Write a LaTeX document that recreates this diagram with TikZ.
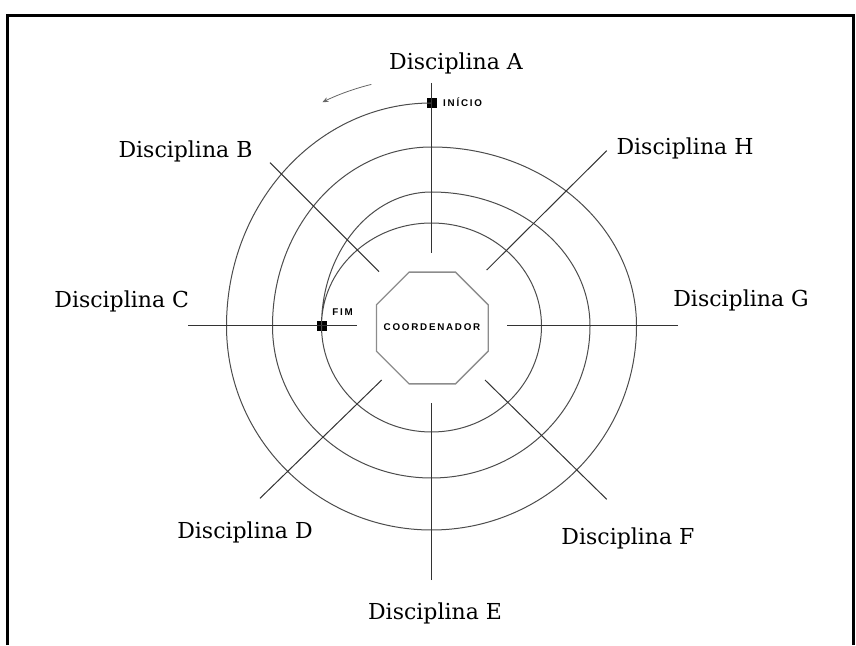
\documentclass[tikz,border=0pt]{standalone}
\usepackage{fontspec}
\newfontfamily\dserif{DejaVu Serif}
\newfontfamily\lblfont[LetterSpace=18]{Liberation Sans}
\usetikzlibrary{shapes.geometric,arrows.meta}
\begin{document}
\begin{tikzpicture}[x=1pt,y=1pt,
  spiral/.style={draw=black!70, line width=1pt},
  radial/.style={draw=black!80, line width=1pt},
  disc/.style={font=\dserif\fontsize{22}{26}\selectfont, anchor=base, inner sep=0pt},
  tag/.style={font=\lblfont\bfseries\fontsize{9.8}{11}\selectfont, inner sep=0pt},
  marker/.style={fill=black, minimum size=10pt, inner sep=0pt, draw=none},
  octa/.style={regular polygon, regular polygon sides=8, minimum size=121pt, inner sep=0pt, draw=black!45, line width=1.3pt}
]
\useasboundingbox (0,0) rectangle (856,645);
% frame
\draw[line width=3pt] (7,0) -- (7,629) -- (853,629) -- (853,0);

% coordinator
\node[octa] (coord) at (432.3,317) {};
\node[tag] (coordT) at (432,318) {COORDENADOR};

% markers
\node[marker] (inicio) at (431.5,542) {};
\node[marker] (fim) at (321.5,319) {};
\node[tag, anchor=west] (inicioT) at (443,542.5) {INÍCIO};
\node[tag] (fimT) at (342.5,332.5) {FIM};

% spiral
\draw[spiral] (inicio.center)
  arc[start angle=90,  end angle=180, x radius=205pt,   y radius=223pt]
  arc[start angle=180, end angle=270, x radius=205pt,   y radius=204pt]
  arc[start angle=270, end angle=360, x radius=205pt,   y radius=204pt]
  arc[start angle=0,   end angle=90,  x radius=205pt,   y radius=179pt]
  arc[start angle=90,  end angle=180, x radius=159pt,   y radius=179pt]
  arc[start angle=180, end angle=270, x radius=159pt,   y radius=152pt]
  arc[start angle=270, end angle=360, x radius=158.5pt, y radius=152pt]
  arc[start angle=0,   end angle=90,  x radius=158.5pt, y radius=134pt]
  arc[start angle=90,  end angle=180, x radius=110pt,   y radius=134pt]
  arc[start angle=180, end angle=270, x radius=110pt,   y radius=106pt]
  arc[start angle=270, end angle=360, x radius=110pt,   y radius=106pt]
  arc[start angle=0,   end angle=90,  x radius=110pt,   y radius=103pt]
  arc[start angle=90,  end angle=180, x radius=110pt,   y radius=103pt];

% direction arrow
\coordinate (arrS) at (371.3,560.6);
\draw[draw=black!60, line width=0.8pt, -{Stealth[length=6pt,width=5pt]}] (arrS) arc[start angle=104, end angle=116, radius=249pt];

% radial lines
\coordinate (aO) at (431.5,562);   \coordinate (aI) at (431.5,392);
\coordinate (eO) at (431.5,65);    \coordinate (eI) at (431.5,242);
\coordinate (cO) at (188,319);     \coordinate (cI) at (357,319);
\coordinate (gO) at (678,319);     \coordinate (gI) at (507,319);
\coordinate (bO) at (270,482.3);   \coordinate (bI) at (379,373.3);
\coordinate (hO) at (606.7,494.3); \coordinate (hI) at (486.7,375);
\coordinate (dO) at (260,146.7);   \coordinate (dI) at (381.7,265);
\coordinate (fO) at (606.7,145.7); \coordinate (fI) at (485,265);
\foreach \p in {a,b,c,d,e,f,g,h} {\draw[radial] (\p O) -- (\p I);}

% labels
\node[disc] (A) at (456,575)   {Disciplina A};
\node[disc] (B) at (185.5,487.5) {Disciplina B};
\node[disc] (Cl) at (121.7,337.3) {Disciplina C};
\node[disc] (D) at (245,106.5) {Disciplina D};
\node[disc] (E) at (435,25.7)  {Disciplina E};
\node[disc] (F) at (628,100.6) {Disciplina F};
\node[disc] (G) at (741,338.3) {Disciplina G};
\node[disc] (H) at (685,490)   {Disciplina H};
\end{tikzpicture}
\end{document}
